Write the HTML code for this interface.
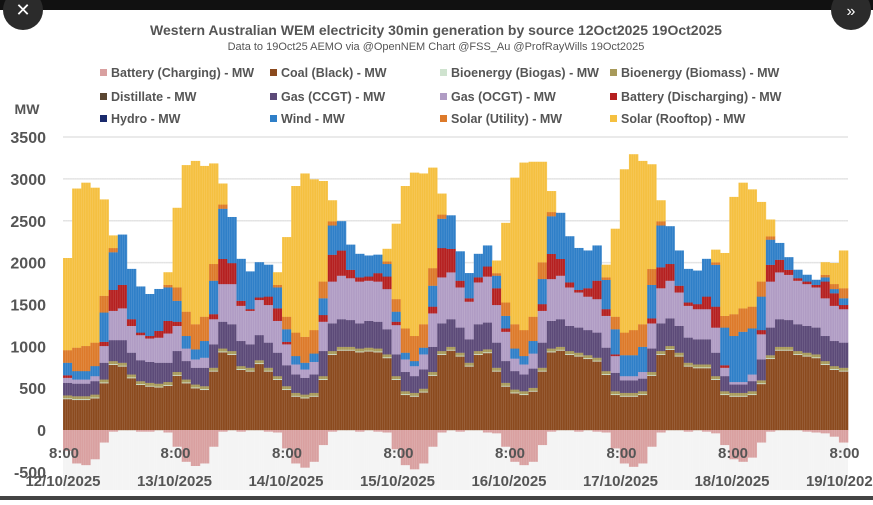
<!DOCTYPE html>
<html><head><meta charset="utf-8"><style>
html,body{margin:0;padding:0;background:#fff;}
body{width:873px;height:500px;overflow:hidden;position:relative;font-family:"Liberation Sans",sans-serif;}
svg text{font-family:"Liberation Sans",sans-serif;}
</style></head><body>
<svg id="chart" width="873" height="500" viewBox="0 0 873 500" xmlns="http://www.w3.org/2000/svg">
<rect x="0" y="0" width="873" height="500" fill="#fff"/>
<rect x="0" y="0" width="873" height="10" fill="#111"/>
<circle cx="23" cy="10" r="20" fill="#2b2b2b"/>
<text x="23" y="16" text-anchor="middle" font-size="18" fill="#fff">✕</text>
<circle cx="851" cy="10" r="20" fill="#2b2b2b"/>
<text x="851" y="16" text-anchor="middle" font-size="16" fill="#fff">»</text>
<rect x="0" y="496" width="873" height="4" fill="#444"/>
<text x="436" y="35" text-anchor="middle" font-size="14" font-weight="bold" fill="#555">Western Australian WEM electricity 30min generation by source 12Oct2025 19Oct2025</text>
<text x="436" y="50" text-anchor="middle" font-size="11" fill="#555">Data to 19Oct25  AEMO via @OpenNEM Chart @FSS_Au @ProfRayWills 19Oct2025</text>
<g id="legend"></g>
<text x="27" y="114" text-anchor="middle" font-size="14" font-weight="bold" fill="#555">MW</text>
<g id="grid"></g>
<g id="marks"></g>
<g id="axes"></g>
</svg>
<script>
const seriesNames=["Battery (Charging) -  MW","Coal (Black) -  MW","Bioenergy (Biogas) -  MW","Bioenergy (Biomass) -  MW","Distillate -  MW","Gas (CCGT) -  MW","Gas (OCGT) -  MW","Battery (Discharging) -  MW","Hydro -  MW","Wind -  MW","Solar (Utility) -  MW","Solar (Rooftop) -  MW"];
const seriesColors=["#d9a0a0","#8b4a1e","#cfe3cf","#a89a5a","#5a4632","#5c4a78","#b09cc4","#b52020","#1a2a6c","#2f7fc8","#dd7a2a","#f5c040"];
const yTicks=[3500,3000,2500,2000,1500,1000,500,0,-500];
const dayLabels=["12/10/2025","13/10/2025","14/10/2025","15/10/2025","16/10/2025","17/10/2025","18/10/2025","19/10/2025"];
const timeLabels=["8:00","8:00","8:00","8:00","8:00","8:00","8:00","8:00"];
const batteryCharging=[-250,-400,-420,-350,-150,-20,0,0,-20,-20,0,-30,
-200,-380,-430,-400,-200,-20,0,-20,0,0,-20,-30,
-220,-400,-450,-380,-180,-20,0,0,-20,0,-20,-30,
-230,-420,-470,-400,-200,-30,0,-20,0,0,-30,-40,
-200,-380,-420,-380,-180,-20,0,0,-20,0,-20,-30,
-220,-400,-440,-400,-200,-30,0,0,-20,0,-20,-40,
-180,-350,-380,-330,-150,-20,0,0,0,-20,-30,-40,
-80,-150];
const coal=[370,360,360,380,560,780,760,620,540,520,510,530,
650,560,500,480,700,930,900,720,700,790,700,600,
480,400,380,400,600,900,950,950,930,940,930,860,
600,420,400,450,650,900,950,880,760,900,920,700,
520,440,420,460,700,930,950,900,880,850,820,660,
420,400,400,420,650,900,960,880,760,740,740,600,
420,400,400,420,550,850,950,950,900,880,860,780,
720,700];
const biogas=[10,10,10,10,10,10,10,10,10,10,10,10,
10,10,10,10,10,10,10,10,10,10,10,10,
10,10,10,10,10,10,10,10,10,10,10,10,
10,10,10,10,10,10,10,10,10,10,10,10,
10,10,10,10,10,10,10,10,10,10,10,10,
10,10,10,10,10,10,10,10,10,10,10,10,
10,10,10,10,10,10,10,10,10,10,10,10,
10,10];
const biomass=[35,35,35,35,35,35,35,35,35,35,35,35,
35,35,35,35,35,35,35,35,35,35,35,35,
35,35,35,35,35,35,35,35,35,35,35,35,
35,35,35,35,35,35,35,35,35,35,35,35,
35,35,35,35,35,35,35,35,35,35,35,35,
35,35,35,35,35,35,35,35,35,35,35,35,
35,35,35,35,35,35,35,35,35,35,35,35,
35,35];
const distillate=[0,0,0,0,0,0,0,0,0,0,0,0,
0,0,0,0,0,0,0,0,0,0,0,0,
0,0,0,0,0,0,0,0,0,0,0,0,
0,0,0,0,0,0,0,0,0,0,0,0,
0,0,0,0,0,0,0,0,0,0,0,0,
0,0,0,0,0,0,0,0,0,0,0,0,
0,0,0,0,0,0,0,0,0,0,0,0,
0,0];
const gasCcgt=[150,150,150,160,200,250,270,260,250,250,250,230,
250,220,200,220,280,320,320,300,280,300,300,280,
250,220,200,220,300,330,330,320,300,320,320,300,
260,230,200,230,300,330,330,300,280,320,320,300,
260,220,200,230,300,330,330,300,300,300,300,280,
220,150,150,150,280,330,330,320,300,300,300,280,
180,100,100,120,250,330,330,320,320,320,320,300,
300,300];
const gasOcgt=[60,50,50,60,200,350,380,320,300,280,300,350,
300,150,100,120,300,450,480,420,400,420,450,380,
250,120,100,150,350,500,520,500,500,480,480,480,
350,150,120,180,400,550,560,480,450,500,550,450,
350,150,120,180,380,500,520,460,420,400,400,380,
200,50,50,80,300,420,450,400,380,360,360,300,
100,30,30,80,300,550,560,540,520,500,480,450,
420,400];
const batteryDischarging=[30,0,0,0,50,250,280,80,30,30,80,150,
50,0,0,0,60,300,250,60,20,30,100,150,
30,0,0,0,80,320,300,100,50,50,100,150,
40,0,0,0,80,350,280,80,40,60,120,200,
40,0,0,0,80,300,200,60,30,100,220,80,
20,0,0,0,60,250,200,80,40,60,150,250,
30,0,0,0,50,200,150,60,30,30,30,200,
150,50];
const hydro=[0,0,0,0,0,0,0,0,0,0,0,0,
0,0,0,0,0,0,0,0,0,0,0,0,
0,0,0,0,0,0,0,0,0,0,0,0,
0,0,0,0,0,0,0,0,0,0,0,0,
0,0,0,0,0,0,0,0,0,0,0,0,
0,0,0,0,0,0,0,0,0,0,0,0,
0,0,0,0,0,0,0,0,0,0,0,0,
0,0];
const wind=[150,100,100,120,350,450,600,600,550,500,500,400,
250,150,120,200,400,600,550,500,450,420,380,250,
150,100,80,100,200,350,350,300,280,250,220,150,
120,80,60,80,250,350,400,350,300,280,250,150,
150,120,100,150,300,450,550,550,500,450,420,350,
300,250,250,300,400,500,450,420,400,400,450,500,
450,550,600,550,400,300,200,150,100,80,60,50,
50,80];
const solarUtility=[150,280,300,280,200,50,0,0,0,0,0,30,
160,290,300,290,200,50,0,0,0,0,0,30,
150,280,310,280,200,50,0,0,0,0,0,30,
150,290,300,280,210,50,0,0,0,0,0,30,
160,290,310,290,200,50,0,0,0,0,0,30,
150,270,300,270,190,50,0,0,0,0,0,30,
140,260,280,260,180,40,0,0,0,0,0,30,
60,120];
const solarRooftop=[1100,1900,1950,1850,1150,150,0,0,0,0,0,150,
950,1750,1950,1800,1200,250,0,0,0,0,0,150,
950,1750,1950,1800,1200,250,0,0,0,0,0,150,
900,1700,1950,1800,1200,250,0,0,0,0,0,150,
950,1750,2000,1850,1200,250,0,0,0,0,0,150,
1050,1950,2100,1950,1250,250,0,0,0,0,0,150,
750,1400,1500,1400,950,200,0,0,0,0,0,150,
250,450];
const positiveSeries=[coal,biogas,biomass,distillate,gasCcgt,gasOcgt,batteryDischarging,hydro,wind,solarUtility,solarRooftop];

const NS="http://www.w3.org/2000/svg";
const X0=63,X1=848,Y0=430,PXMW=0.0837;
const n=coal.length;
const bw=(X1-X0)/n;
function xScale(i){return X0+i*bw;}
function yScale(v){return Y0-v*PXMW;}
function el(tag,attrs,parent){const e=document.createElementNS(NS,tag);for(const k in attrs)e.setAttribute(k,attrs[k]);parent.appendChild(e);return e;}

const leg=document.getElementById('legend');
const legCols=[100,270,440,610],legRows=[73,97,119];
seriesNames.forEach((nm,k)=>{
  const cx=legCols[k%4],cy=legRows[Math.floor(k/4)];
  const g=el('g',{},leg);
  
  
  el('rect',{x:cx,y:cy-4,width:7,height:7,fill:seriesColors[k]},g);
  const t=el('text',{x:cx+11,y:cy+4,'font-size':12.5,'font-weight':'bold',fill:'#555'},g);
  t.textContent=nm;
});

const grid=document.getElementById('grid'),axes=document.getElementById('axes');
el('rect',{x:X0,y:Y0,width:X1-X0,height:60,fill:'#f4f4f4'},grid);
yTicks.forEach(v=>{
  if(v>0){const l=el('line',{x1:X0,x2:X1,y1:yScale(v),y2:yScale(v),stroke:'#e3e3e3','stroke-width':1.5},grid);
  
  }
  const t=el('text',{x:46,y:yScale(v)+6,'text-anchor':'end','font-size':16,'font-weight':'bold',fill:'#555'},axes);
  
  
  t.textContent=v;
});

const marks=document.getElementById('marks');
for(let i=0;i<n;i++){
  let acc=0;
  positiveSeries.forEach((s,k)=>{
    const v=s[i];if(v<=0)return;
    const r=el('rect',{x:xScale(i),y:yScale(acc+v),width:bw+0.3,height:v*PXMW+0.2,fill:seriesColors[k+1]},marks);
    
    
    acc+=v;
  });
  const c=batteryCharging[i];
  if(c<0){const r=el('rect',{x:xScale(i),y:Y0,width:bw+0.3,height:-c*PXMW,fill:seriesColors[0]},marks);
    
    }
}
for(let i=0;i<n*4;i+=1){
  const x=X0+i*bw/4;
  el('line',{x1:x,x2:x,y1:yScale(3400),y2:Y0+60,stroke:'rgba(255,255,255,0.18)','stroke-width':0.6},marks);
}

timeLabels.forEach((lb,k)=>{
  const x=64+111.5*k;
  const t=el('text',{x:x,y:458,'text-anchor':'middle','font-size':15,'font-weight':'bold',fill:'#555'},axes);
  
  
  t.textContent=lb;
});
dayLabels.forEach((lb,k)=>{
  const x=63+111.5*k;
  const t=el('text',{x:x,y:486,'text-anchor':'middle','font-size':15,'font-weight':'bold',fill:'#555'},axes);
  
  
  t.textContent=lb;
});
</script>
</body></html>
